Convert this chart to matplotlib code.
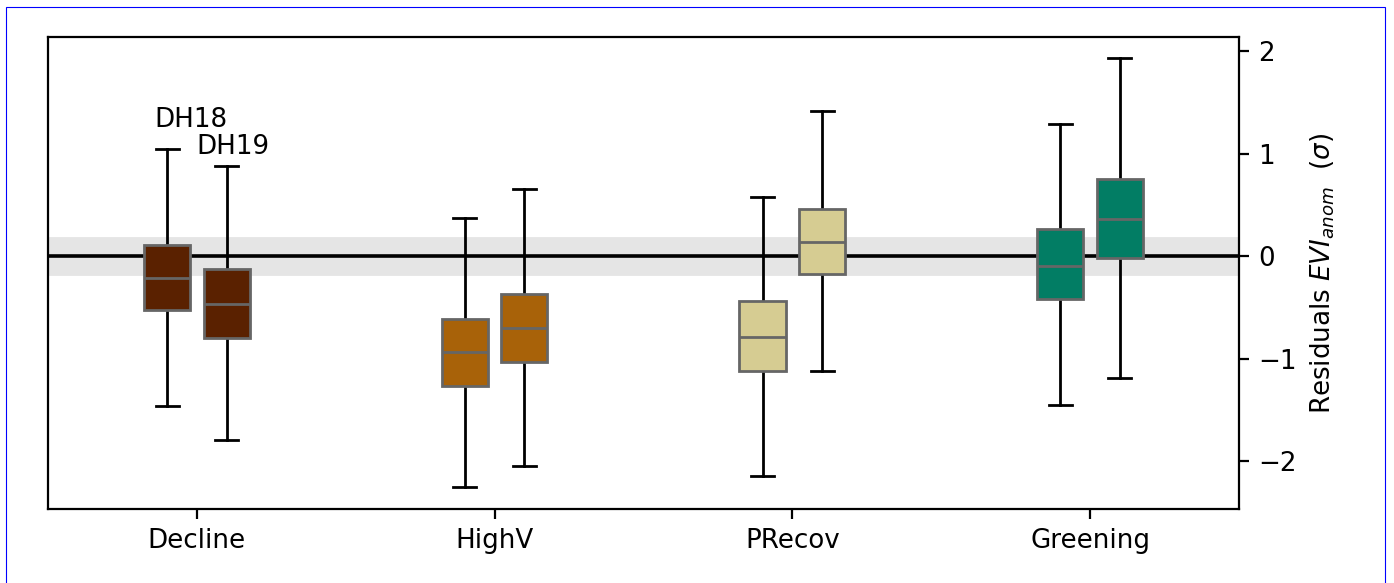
import matplotlib.pyplot as plt
from matplotlib.patches import Rectangle

# drought-impact classes and yearly residual box statistics
categories = ['Decline', 'HighV', 'PRecov', 'Greening']
colors = ['#5a2100', '#a86209', '#d6cc92', '#027d64']

# DH18 statistics per category
dh18_whislo = [-1.46, -2.25, -2.15, -1.45]
dh18_q1 = [-0.53, -1.27, -1.12, -0.42]
dh18_med = [-0.21, -0.94, -0.79, -0.10]
dh18_q3 = [0.11, -0.61, -0.44, 0.26]
dh18_whishi = [1.04, 0.37, 0.58, 1.29]

# DH19 statistics per category
dh19_whislo = [-1.80, -2.05, -1.12, -1.19]
dh19_q1 = [-0.80, -1.03, -0.18, -0.02]
dh19_med = [-0.47, -0.70, 0.14, 0.36]
dh19_q3 = [-0.13, -0.37, 0.46, 0.75]
dh19_whishi = [0.88, 0.65, 1.42, 1.93]

band = 0.18

plt.rcParams['font.size'] = 9.4

fig = plt.figure(figsize=(6.97, 2.915), dpi=200)
ax = fig.add_axes([0.0344, 0.127, 0.8544, 0.8095])

ax.axhspan(-band, band, color='#e5e5e5', zorder=0)
ax.axhline(0, color='black', lw=1.3, zorder=1)


def make_stats(lo, q1, med, q3, hi):
    return [dict(whislo=a, q1=b, med=c, q3=d, whishi=e, fliers=[])
            for a, b, c, d, e in zip(lo, q1, med, q3, hi)]


offset = 0.1
width = 0.155
for stats, shift in [(make_stats(dh18_whislo, dh18_q1, dh18_med, dh18_q3, dh18_whishi), -offset),
                     (make_stats(dh19_whislo, dh19_q1, dh19_med, dh19_q3, dh19_whishi), offset)]:
    pos = [i + shift for i in range(len(categories))]
    bp = ax.bxp(stats, positions=pos, widths=width, patch_artist=True,
                showfliers=False, manage_ticks=False,
                boxprops=dict(edgecolor='#666666', linewidth=1.0),
                medianprops=dict(color='#666666', linewidth=1.0, zorder=4),
                whiskerprops=dict(color='black', linewidth=1.0, zorder=2),
                capprops=dict(color='black', linewidth=1.0, zorder=2))
    for patch, c in zip(bp['boxes'], colors):
        patch.set_facecolor(c)
        patch.set_zorder(3)

ax.text(-0.02, dh18_whishi[0] + 0.22, 'DH18', ha='center', va='baseline')
ax.text(0.12, dh19_whishi[0] + 0.12, 'DH19', ha='center', va='baseline')

ax.set_xlim(-0.5, 3.5)
ax.set_ylim(-2.468, 2.137)
ax.set_xticks(range(len(categories)))
ax.set_xticklabels(categories)
ax.set_yticks([-2, -1, 0, 1, 2])
ax.yaxis.tick_right()
ax.yaxis.set_label_position('right')
ax.set_ylabel(r'Residuals $EVI_{anom}$  ($\sigma$)')

# thin frame around the figure
fig.patches.append(Rectangle((6 / 1394, -0.05), 1379 / 1394, 1 - 7 / 583 + 0.05,
                             transform=fig.transFigure, fill=False,
                             edgecolor='blue', lw=0.4))

fig.savefig('out.png', dpi=200)
